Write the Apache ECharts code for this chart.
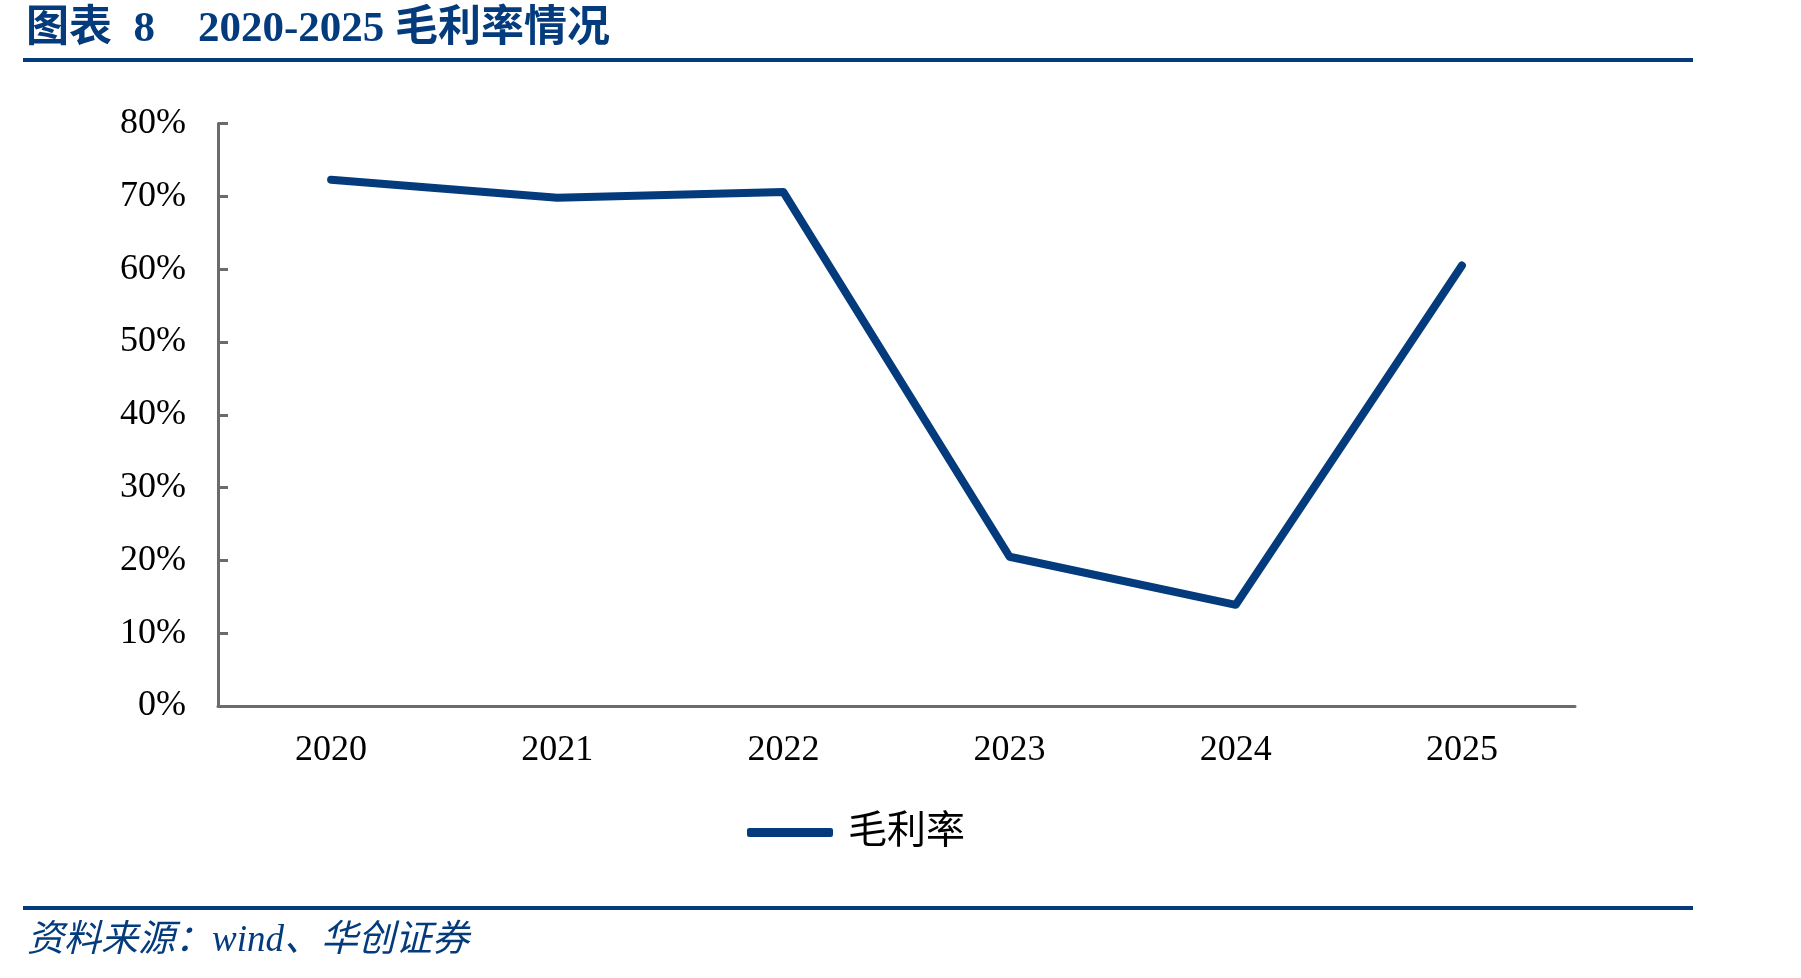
<!DOCTYPE html>
<html>
<head>
<meta charset="utf-8">
<script src="https://cdn.jsdelivr.net/npm/echarts@6/dist/echarts.min.js"></script>
<style>
html, body { margin: 0; padding: 0; background: #fff; }
#main { width: 1801px; height: 978px; }
</style>
</head>
<body>
<div id="main"></div>
<script>
//年份
var years = ['2020', '2021', '2022', '2023', '2024', '2025'];
//毛利率(%)
var grossMargin = [72.3, 69.8, 70.6, 20.5, 13.9, 60.5];
//纵轴刻度
var yTicks = [0, 10, 20, 30, 40, 50, 60, 70, 80];

var serifFont = "'Liberation Serif', 'Times New Roman', 'Noto Sans CJK SC', serif";
var blue = '#043b7d';
var axisGrey = '#6b6b6b';

var mychart = echarts.init(document.getElementById('main'));

var option = {
	animation: false,
	backgroundColor: '#fff',
	title: {
		text: '图表  8    2020-2025 毛利率情况',
		left: 21,
		top: 3,
		textStyle: {
			fontFamily: serifFont,
			fontWeight: 'bold',
			fontSize: 43,
			color: blue
		}
	},
	graphic: [{
		type: 'rect',
		shape: { x: 23, y: 58, width: 1670, height: 4 },
		style: { fill: blue }
	}, {
		type: 'rect',
		shape: { x: 23, y: 906, width: 1670, height: 4 },
		style: { fill: blue }
	}, {
		type: 'text',
		left: 27,
		top: 923,
		style: {
			text: '资料来源：wind、华创证券',
			fontFamily: serifFont,
			fontStyle: 'italic',
			fontSize: 37,
			fill: blue
		}
	}],
	legend: {
		data: ['毛利率'],
		left: 742,
		top: 808,
		icon: 'roundRect',
		itemWidth: 86,
		itemHeight: 9,
		itemGap: 20,
		itemStyle: { color: blue },
		textStyle: {
			fontFamily: serifFont,
			fontSize: 39,
			color: '#000',
			padding: [0, 0, 0, 10]
		}
	},
	grid: {
		left: 218,
		right: 226,
		top: 123.6,
		bottom: 272,
		containLabel: false
	},
	xAxis: [{
		type: 'category',
		data: years,
		boundaryGap: true,
		axisLine: { lineStyle: { color: axisGrey, width: 3 } },
		axisTick: { show: false },
		axisLabel: {
			fontFamily: serifFont,
			fontSize: 36,
			color: '#000',
			margin: 27
		}
	}],
	yAxis: [{
		type: 'value',
		min: yTicks[0],
		max: yTicks[yTicks.length - 1],
		interval: 10,
		axisLine: { show: true, lineStyle: { color: axisGrey, width: 3 } },
		axisTick: { show: true, inside: true, length: 10, lineStyle: { color: axisGrey, width: 3 } },
		splitLine: { show: false },
		axisLabel: {
			fontFamily: serifFont,
			fontSize: 36,
			color: '#000',
			margin: 32,
			formatter: '{value}%'
		}
	}],
	series: [{
		name: '毛利率',
		type: 'line',
		data: grossMargin,
		symbol: 'none',
		lineStyle: { color: blue, width: 8, cap: 'round', join: 'round' },
		itemStyle: { color: blue }
	}]
};

mychart.setOption(option);
</script>
</body>
</html>
